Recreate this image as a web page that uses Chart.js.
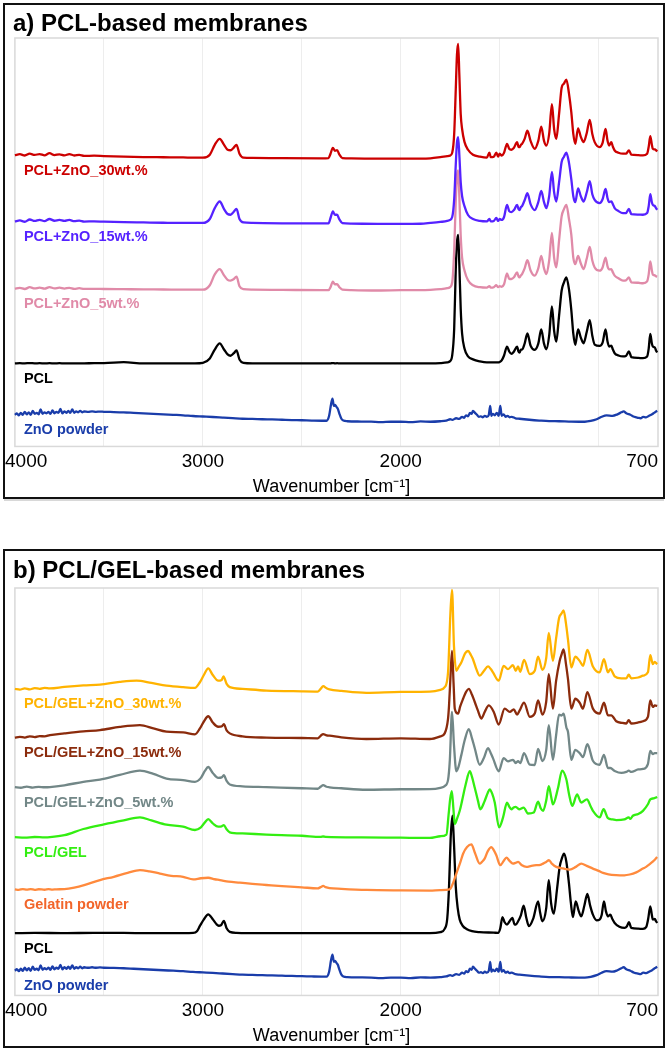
<!DOCTYPE html>
<html>
<head>
<meta charset="utf-8">
<script src="https://cdn.jsdelivr.net/npm/chart.js@4.4.1/dist/chart.umd.min.js"></script>
<style>
  html, body { margin: 0; padding: 0; background: #fff; }
  #page { position: relative; width: 668px; height: 1050px; overflow: hidden; }
  canvas { position: absolute; left: 0; }
  .frame { position: absolute; left: 3px; width: 662px; border: 2px solid #111; box-sizing: border-box; }
  .panel-title { position: absolute; left: 13px; font: bold 24px 'Liberation Sans', Arial, sans-serif; color: #000; line-height: 28px; white-space: nowrap; }
</style>
</head>
<body>
<div id="page">
  <canvas id="pcl-chart" width="668" height="500" style="top:0;width:668px;height:500px"></canvas>
  <canvas id="gel-chart" width="668" height="502" style="top:548px;width:668px;height:502px"></canvas>
  <div class="frame" style="top:3px;height:496px;box-shadow:0 3px 0 -1px #d8d8d8"></div>
  <div class="frame" style="top:549px;height:499px"></div>
  <div class="panel-title" style="top:9px">a) PCL-based membranes</div>
  <div class="panel-title" style="top:556px">b) PCL/GEL-based membranes</div>
</div>
<script>
'use strict';

var fontFamily = "'Liberation Sans', Arial, sans-serif";

// x axis, wavenumber in cm-1
var tickValues = [4000, 3000, 2000, 700];
var tickLabels = ['4000', '3000', '2000', '700'];
var gridValues = [3500, 3000, 2500, 2000, 1500, 1000];
var frameFrom = 3950; // plot frame starts where the recorded spectra start

// ---- a) PCL-based membranes: shared wavenumber grid ----
var gridA = [
  3950, 3925, 3900, 3875, 3850, 3825, 3800, 3775, 3750, 3725, 3700, 3675, 3650, 3625, 3600, 3550, 3500, 3400, 3300, 3200, 3100, 3040,
  3000, 2965, 2940, 2915, 2893, 2875, 2860, 2845, 2830, 2815, 2795,
  2750, 2600, 2400,
  2365, 2355, 2343, 2333, 2322, 2310, 2295,
  2250, 2100, 2000, 1900, 1850, 1800,
  1765, 1752, 1740, 1730, 1722, 1716, 1710, 1704, 1697, 1690, 1678, 1660, 1635, 1600, 1565,
  1552, 1545, 1530, 1517, 1508, 1500, 1490, 1478, 1463, 1452,
  1441, 1428, 1412, 1405, 1399, 1393, 1387, 1374, 1360, 1344,
  1323, 1305, 1290, 1276, 1264, 1250, 1236, 1225, 1214, 1200,
  1187, 1175, 1163, 1150, 1138, 1128, 1118, 1104, 1090, 1076,
  1060, 1045, 1032, 1020, 995, 980, 965, 955, 947, 936,
  928, 919, 900, 877, 862, 847, 840, 835, 800, 776,
  755, 747, 739, 731, 726, 716, 710, 704
];

var pclZno30 = [
  3.5, 4.5, 3.2, 5, 3.8, 4.6, 3.4, 5.5, 3.6, 4.4, 3.3, 4.6, 3.2, 3.8, 2.8, 3, 2.6, 2, 1.6, 1.4, 1.2, 1,
  1, 4, 14, 20, 14, 9, 8.5, 11, 14, 5, 1,
  0.8, 0.5, 0.3,
  0.5, 5, 11, 8, 8.5, 4, 0.5,
  0.2, 0, 0, 0, 0.3, 1.5,
  2.5, 3, 6, 25, 70, 105, 116, 85, 45, 30, 17, 9, 4, 2, 1,
  6, 1.5, 2, 6, 2, 5, 3, 6, 15, 10,
  9, 11, 16.7, 12, 11.7, 14, 15, 20, 28.3, 18,
  10, 18, 32.3, 18, 13.3, 25, 55, 30, 20, 45,
  71.7, 76, 80, 66, 46.7, 25, 15, 30.7, 22, 16.7,
  26, 39.3, 25, 16.7, 11.7, 16, 30, 18, 13.3, 16.7,
  12, 8.3, 6, 5, 5, 8.3, 6, 4, 3.5, 3.3,
  5, 12, 22.7, 14, 10, 9.3, 8.5, 7.3
];

var pclZno15 = [
  2.5, 3.5, 2.2, 4.5, 3, 4.2, 2.8, 5, 3.2, 4, 3, 4, 2.8, 3.4, 2.4, 2.6, 2.3, 1.8, 1.5, 1.2, 1, 1,
  1, 5, 16, 22.7, 15, 10, 9.3, 12, 15.3, 5, 1.5,
  1, 0.6, 0.5,
  0.5, 6, 12.7, 9.3, 9.3, 4.5, 0.8,
  0.3, 0, 0, 0.2, 1, 2,
  3, 4, 7, 25, 60, 82, 87.7, 70, 42, 28, 18, 9, 5, 3, 2.5,
  5, 2.5, 3, 6, 3, 5, 4, 7, 19.3, 13,
  12, 14, 19.3, 15, 14, 17, 18, 24, 31, 20,
  14, 22, 33.3, 22, 16, 28, 52.7, 32, 22.7, 42,
  62.7, 68, 72, 62, 45, 28, 22, 36, 28, 22.7,
  32, 43.3, 30, 24.3, 21, 25, 35.3, 26, 22, 22.7,
  20, 16, 13, 11, 11, 15.3, 12, 10, 9.5, 9.3,
  11, 18, 30, 22, 19.3, 18, 16, 14.3
];

var pclZno5 = [
  1.5, 2.3, 1.2, 3, 1.8, 2.6, 1.5, 3.2, 1.8, 2.5, 1.6, 2.4, 1.4, 2, 1.3, 1.4, 1.2, 1, 0.8, 0.7, 0.5, 0.5,
  0.5, 5, 16, 21.3, 15, 10.5, 9.7, 11, 13.7, 4, 1,
  0.5, 0.3, 0,
  0, 3, 8.7, 6, 6, 3, 0.5,
  0, -0.3, 0, 0, 0.3, 1,
  2, 3, 8, 40, 90, 115, 121, 95, 55, 33, 20, 10, 5, 3, 2.5,
  4, 2.5, 3, 5, 3, 4, 3.5, 6, 17, 11.5,
  11.3, 13, 18, 14, 13, 15, 16.3, 22, 30.3, 20,
  14.7, 22, 34.7, 22, 16.3, 30, 58, 33, 23, 50,
  74.7, 82, 86.3, 72, 56, 33, 26.3, 34.7, 27, 21.3,
  32, 43.7, 30, 23, 19.7, 23, 33, 24, 21, 21.3,
  18, 14.7, 12, 9.7, 10, 13, 10, 8, 7.5, 7,
  9, 16, 29, 20, 15.7, 15, 14, 13.7
];

var pclA = [
  0, 0.2, 0, 0.3, 0, 0.2, 0, 0.2, 0, 0.2, 0, 0.1, 0, 0.1, 0, 0.3, 0.3, 1.2, 0, 0, 0, 0,
  0.5, 5, 14, 20.3, 14, 9, 7.7, 10, 13, 4, 0.5,
  0, 0, 0,
  0, 0, 0.3, 0, 0.2, 0, 0,
  0, 0, 0, 0, 0, 0.3,
  1, 2, 8, 35, 95, 122, 130, 100, 55, 30, 15, 7, 4, 2, 1,
  1, 1, 1, 1, 1, 1.5, 3, 8, 17, 12,
  9.7, 12, 17, 12, 11, 14, 14, 20, 30.3, 18,
  13.7, 20, 34.3, 20, 14.3, 28, 57.7, 33, 22, 48,
  73.7, 82, 87, 75, 53.7, 30, 18.7, 34.3, 26, 20.3,
  32, 43.7, 28, 19, 17.7, 21, 34.3, 22, 17, 18,
  14, 10.3, 8, 7, 7.5, 12, 9, 6.3, 5.5, 5.3,
  7, 15, 29.7, 20, 17, 16, 13, 11
];

// ZnO powder, same spectrum in both panels: [wavenumber, intensity]
var znoPowder = [
  [3950, 7], [3940, 8.5], [3930, 6.5], [3920, 9], [3910, 7], [3900, 10], [3890, 7.5], [3880, 9.5], [3870, 7], [3860, 11],
  [3850, 8], [3840, 9], [3830, 7.5], [3820, 12.5], [3810, 8], [3800, 9.5], [3790, 8.5], [3780, 10], [3770, 8], [3760, 11.5],
  [3750, 8.5], [3740, 10], [3730, 9], [3720, 13], [3710, 8.5], [3700, 10.5], [3690, 9], [3680, 11], [3670, 9], [3660, 12.5],
  [3650, 9], [3640, 10.5], [3630, 9.5], [3620, 11], [3610, 9.5], [3600, 10.5], [3580, 10], [3560, 10.5], [3540, 10], [3520, 10.3],
  [3500, 10], [3450, 9.8], [3400, 9.5], [3350, 9], [3300, 8.5], [3250, 8], [3200, 7.5], [3150, 7], [3100, 6.5], [3050, 5.8],
  [3000, 5.3], [2950, 4.8], [2900, 4.2], [2850, 3.6], [2800, 3], [2750, 2.8], [2700, 2.5], [2650, 2.3], [2600, 2], [2550, 1.7],
  [2500, 1.5], [2450, 1.2], [2400, 1], [2375, 1], [2362, 6], [2352, 18], [2345, 23.3], [2338, 16], [2332, 17], [2325, 15],
  [2318, 13], [2310, 8], [2300, 3], [2290, 1.2], [2270, 0.5], [2200, 0.2], [2150, 0], [2100, -0.5], [2050, 0], [2000, 0],
  [1950, -0.5], [1900, 0.3], [1850, 0], [1800, 0.5], [1770, 1.2], [1750, 2.5], [1740, 1.8], [1720, 3.5], [1705, 2.8], [1690, 5],
  [1680, 4], [1670, 6.5], [1660, 5.5], [1650, 9], [1642, 8], [1635, 11], [1625, 9], [1615, 7], [1605, 5], [1595, 5.5],
  [1585, 4.5], [1575, 6], [1565, 5], [1555, 7], [1548, 16], [1542, 6], [1535, 8], [1525, 6.5], [1515, 9], [1505, 6],
  [1497, 16], [1490, 6], [1480, 7.5], [1470, 5], [1460, 6], [1450, 4.5], [1440, 5], [1420, 3.5], [1400, 3], [1350, 2],
  [1300, 1.2], [1250, 0.6], [1200, 0.5], [1150, 0.2], [1100, 0], [1070, 0], [1040, 0.8], [1010, 2.5], [985, 5], [960, 6.5],
  [930, 6], [905, 7.5], [885, 9.5], [874, 10.5], [860, 8.5], [840, 7], [820, 5], [800, 4], [788, 3.5], [775, 5],
  [760, 4.5], [745, 6], [730, 7.5], [720, 9], [712, 10], [704, 11]
];

var labelsA = ['PCL+ZnO_30wt.%', 'PCL+ZnO_15wt.%', 'PCL+ZnO_5wt.%', 'PCL', 'ZnO powder'];
var colorsA = ['#CC0000', '#5522FF', '#E08AA8', '#000000', '#1A3DAA'];
var offsetsA = [291, 225, 158, 84, 25];

// ---- b) PCL/GEL-based membranes: [wavenumber, intensity] ----
var gelZno30 = [
  [3950, 4], [3925, 3.2], [3900, 4.5], [3875, 3.5], [3850, 4.8], [3825, 4], [3800, 5], [3773, 4.5], [3700, 6], [3604, 7.5],
  [3520, 8.3], [3420, 11], [3335, 12.3], [3260, 10], [3184, 7.3], [3100, 5.7], [3040, 5], [3015, 10.7], [2995, 18], [2973, 24.7],
  [2950, 18], [2923, 12.3], [2905, 13], [2896, 16.7], [2880, 9], [2864, 5.7], [2800, 4], [2679, 2.3], [2500, 1.5], [2420, 1.3],
  [2405, 4], [2392, 6.7], [2375, 4.7], [2360, 3.5], [2300, 2], [2174, 0], [2000, 1], [1853, 1.3], [1800, 3], [1778, 5.7],
  [1761, 20.7], [1749, 80.7], [1741, 104], [1731, 47], [1719, 22.3], [1708, 26], [1694, 30.7], [1675, 40], [1660, 42.3], [1645, 38],
  [1635, 34], [1618, 24], [1601, 17.3], [1580, 22], [1559, 26.7], [1545, 24], [1534, 20.7], [1505, 12.3], [1480, 27.3], [1458, 24],
  [1433, 28], [1419, 22.3], [1407, 26.7], [1396, 21.3], [1377, 33.3], [1348, 19], [1323, 22.3], [1306, 36.7], [1284, 23.3], [1265, 35],
  [1252, 60.7], [1231, 32.3], [1215, 55], [1200, 75.7], [1188, 80], [1177, 83.3], [1165, 70], [1155, 54], [1138, 25.7], [1118, 36.7],
  [1096, 32.3], [1079, 27.3], [1057, 43.3], [1029, 26.7], [995, 20.7], [973, 34], [953, 20.7], [941, 24], [919, 16.7], [885, 14.7],
  [860, 14.7], [848, 18.3], [835, 14.7], [800, 15.5], [776, 17.3], [751, 20.7], [739, 38], [726, 29], [717, 31.3], [704, 29]
];

var gelZno15 = [
  [3950, 0.7], [3925, 1.5], [3900, 0.8], [3875, 2], [3850, 1.2], [3825, 2.2], [3800, 2], [3773, 3.3], [3700, 5], [3604, 7],
  [3520, 8.3], [3420, 11.5], [3318, 13.3], [3250, 10], [3184, 6.7], [3100, 6], [3040, 4], [3015, 10], [2995, 17], [2973, 22.3],
  [2950, 16], [2923, 11.7], [2905, 12], [2894, 14.3], [2880, 8], [2864, 5], [2800, 2], [2679, 0.7], [2500, 0.3], [2420, 0],
  [2405, 2.5], [2392, 4.3], [2375, 3], [2360, 2.7], [2300, 1], [2174, -0.7], [2000, 0], [1853, -0.7], [1800, 2], [1778, 5],
  [1761, 20], [1756, 33.3], [1748, 65], [1741, 88.3], [1733, 55], [1727, 30], [1710, 25], [1700, 32], [1685, 40], [1670, 47],
  [1656, 50], [1640, 44], [1626, 36.7], [1610, 28], [1593, 20], [1575, 27], [1555, 33.3], [1530, 26.7], [1505, 14], [1475, 30],
  [1449, 26.7], [1429, 29.3], [1412, 24], [1399, 28.3], [1377, 36], [1348, 21.7], [1323, 25], [1306, 38.3], [1284, 24], [1265, 37],
  [1252, 65], [1231, 30], [1215, 58], [1197, 78.3], [1187, 85], [1177, 90], [1165, 75], [1155, 60], [1138, 30], [1118, 40],
  [1096, 36], [1079, 30], [1057, 46.7], [1029, 30], [995, 25], [973, 36], [953, 23.3], [936, 23.3], [911, 17.3], [880, 15.5],
  [860, 15], [848, 18.3], [835, 15], [800, 16], [776, 17.3], [751, 21.7], [739, 38.3], [726, 31.7], [716, 33.3], [704, 32.7]
];

var gelZno5 = [
  [3950, 2.7], [3920, 2], [3890, 3.2], [3860, 2.2], [3830, 3], [3800, 2.5], [3773, 2.7], [3700, 4.5], [3604, 8], [3520, 10.3],
  [3420, 15], [3318, 19.3], [3250, 16], [3184, 11.3], [3100, 9.7], [3040, 8], [3010, 12], [2990, 19], [2973, 23], [2950, 17],
  [2923, 12], [2905, 12.5], [2894, 14.7], [2880, 9], [2864, 5.3], [2800, 3.5], [2679, 2.7], [2500, 1.5], [2420, 1], [2405, 3],
  [2392, 4.7], [2375, 3], [2360, 2.5], [2300, 1.5], [2174, 0], [2000, 0.5], [1853, 0.7], [1800, 2], [1778, 3.7], [1761, 10],
  [1752, 30], [1741, 78.7], [1731, 45], [1719, 18.7], [1710, 22], [1694, 35], [1677, 50], [1656, 61.3], [1640, 52], [1626, 42],
  [1601, 25.3], [1580, 32], [1559, 42], [1545, 37], [1534, 32], [1505, 18.7], [1480, 32], [1458, 28.7], [1433, 30.3], [1419, 27],
  [1407, 29], [1396, 27], [1377, 37], [1348, 25.3], [1323, 25], [1306, 41.3], [1284, 29], [1265, 40], [1252, 65.3], [1231, 30.3],
  [1215, 55], [1200, 76], [1188, 75], [1177, 77], [1163, 63], [1155, 58.7], [1138, 30.3], [1118, 40.3], [1096, 37], [1079, 33],
  [1057, 46], [1029, 29.3], [995, 25.3], [973, 35.3], [953, 22], [941, 22], [919, 19], [885, 17], [860, 18], [848, 19.3],
  [835, 18], [800, 20.5], [776, 21], [751, 26], [739, 39.3], [726, 36], [717, 37], [704, 37]
];

var pclGel = [
  [3950, 1], [3900, 0.6], [3850, 1.2], [3800, 0.8], [3773, 1], [3700, 3], [3604, 9.3], [3500, 14], [3400, 18], [3318, 21],
  [3260, 18], [3184, 13.7], [3100, 11.7], [3040, 8.3], [3010, 11], [2990, 16], [2973, 19.3], [2950, 15], [2923, 11.7], [2905, 12],
  [2894, 13.3], [2880, 9], [2864, 6], [2800, 4.8], [2679, 3.7], [2500, 2.5], [2405, 1.3], [2392, 1.7], [2380, 1.3], [2200, 0.8],
  [2000, 0.5], [1853, 0.3], [1800, 2], [1769, 3.7], [1758, 24.3], [1750, 40], [1742, 47.7], [1734, 30], [1727, 14.3], [1715, 20],
  [1702, 27.7], [1690, 38], [1672, 54.3], [1651, 67.7], [1640, 62], [1626, 51], [1610, 38], [1598, 29.3], [1576, 37.7], [1560, 46],
  [1550, 49.3], [1538, 45], [1525, 36], [1503, 11], [1483, 21], [1463, 36], [1452, 32], [1441, 29.3], [1430, 31], [1419, 31.7],
  [1402, 29.3], [1379, 31], [1357, 25], [1328, 26], [1306, 37], [1292, 30], [1281, 27.7], [1265, 38], [1252, 52.7], [1240, 42],
  [1231, 34.3], [1205, 51], [1185, 68.3], [1163, 59.3], [1150, 45], [1133, 32.7], [1109, 44.3], [1088, 36], [1059, 39.3], [1040, 32],
  [1029, 27.7], [995, 21], [975, 29.3], [953, 20.3], [930, 19], [911, 18.3], [870, 19], [848, 21], [840, 19.5], [827, 22.7],
  [800, 24.5], [776, 27.7], [751, 34.3], [739, 39.3], [722, 40.3], [712, 41], [704, 41.7]
];

var gelatinPowder = [
  [3950, 1.3], [3930, 0.8], [3910, 1.5], [3890, 1], [3870, 1.6], [3850, 0.8], [3830, 1.4], [3800, 0.9], [3780, 1.5], [3760, 1],
  [3740, 1.3], [3700, 1.5], [3650, 3], [3600, 5.5], [3520, 10.7], [3450, 14], [3380, 18], [3318, 20.7], [3270, 19.5], [3217, 17.3],
  [3160, 15], [3100, 14], [3049, 11.3], [3010, 12.5], [2973, 13], [2940, 11.5], [2914, 10.7], [2870, 9], [2813, 8], [2750, 6.8],
  [2679, 5.7], [2600, 4.5], [2500, 3.3], [2420, 2.3], [2405, 3.5], [2392, 4.7], [2380, 3.5], [2360, 2.5], [2300, 1.8], [2174, 0.7],
  [2000, 0.2], [1853, 0], [1800, 0.5], [1753, 1.3], [1735, 8], [1719, 17.3], [1700, 28], [1685, 37.3], [1665, 44], [1643, 46.7],
  [1625, 38], [1601, 27.3], [1590, 29], [1576, 32.3], [1560, 40], [1542, 44], [1530, 41], [1517, 35.7], [1497, 25.7], [1480, 30],
  [1466, 33.3], [1450, 30], [1433, 27.3], [1420, 28], [1407, 29], [1390, 26], [1365, 24], [1340, 25], [1315, 25.7], [1295, 26],
  [1281, 27.3], [1265, 29], [1251, 30.7], [1235, 27], [1214, 24], [1180, 22.5], [1146, 21.3], [1115, 24], [1088, 27.3], [1060, 25],
  [1029, 22.3], [1000, 20], [978, 18], [950, 16.5], [911, 15.7], [870, 15.5], [843, 16.3], [810, 18.5], [776, 22.3], [760, 24],
  [742, 26.7], [725, 29.5], [715, 31.5], [704, 34]
];

var pclB = [
  [3950, 0], [3850, 0.3], [3700, 0], [3550, 0.3], [3400, 0.2], [3250, 0], [3100, 0], [3049, 0.3], [3030, 2], [3015, 7.3],
  [2995, 14], [2973, 19], [2950, 14], [2931, 9], [2920, 7.5], [2909, 8], [2894, 12.3], [2880, 5], [2864, 1.3], [2830, 0.3],
  [2700, 0], [2500, 0], [2300, 0], [2100, 0], [1950, 0], [1853, 0], [1800, 1], [1778, 4.3], [1765, 15], [1756, 47],
  [1748, 95], [1739, 118.7], [1731, 90], [1722, 47], [1712, 25], [1702, 13.7], [1685, 7], [1668, 4.3], [1640, 2], [1601, 1],
  [1530, 0.5], [1508, 0.3], [1497, 5], [1486, 16.3], [1475, 11], [1463, 8.7], [1450, 12], [1436, 15.3], [1425, 9], [1419, 8.7],
  [1407, 12], [1393, 18], [1379, 27.7], [1365, 15], [1352, 7], [1330, 15], [1306, 32], [1295, 20], [1284, 12], [1265, 25],
  [1252, 53.7], [1240, 30], [1227, 19.7], [1210, 45], [1197, 67], [1185, 76], [1175, 80.3], [1163, 72], [1150, 50.3], [1140, 30],
  [1130, 16.3], [1116, 32], [1100, 22], [1088, 17], [1072, 28], [1057, 39.7], [1043, 28], [1029, 18.7], [1010, 13], [995, 13.7],
  [985, 18], [973, 32], [963, 22], [953, 17], [941, 18.7], [930, 14], [919, 10.3], [895, 6.5], [869, 5.3], [857, 7],
  [847, 11], [835, 5.3], [800, 4.5], [776, 4.3], [760, 6], [750, 14], [739, 27], [730, 17], [726, 13.7], [716, 14.3],
  [710, 12], [704, 10.3]
];

var labelsB = ['PCL/GEL+ZnO_30wt.%', 'PCL/GEL+ZnO_15wt.%', 'PCL/GEL+ZnO_5wt.%', 'PCL/GEL', 'Gelatin powder', 'PCL', 'ZnO powder'];
var colorsB = ['#FFB300', '#8B2B0C', '#728787', '#33EE11', '#FF8A3D', '#000000', '#1A3DAA'];
var labelColorsB = ['#FFB300', '#8B2B0C', '#728787', '#33EE11', '#F2652A', '#000000', '#1A3DAA'];
var offsetsB = [306, 260, 208, 159, 106, 63, 18];

function fromGrid(grid, values, offset) {
  return grid.map(function (w, i) { return { x: w, y: values[i] + offset }; });
}

function fromPairs(pairs, offset) {
  return pairs.map(function (p) { return { x: p[0], y: p[1] + offset }; });
}

function makeDataset(label, data, color, labelColor) {
  return {
    label: label,
    data: data,
    borderColor: color,
    labelColor: labelColor || color,
    borderWidth: 2.3,
    pointRadius: 0,
    fill: false,
    cubicInterpolationMode: 'monotone'
  };
}

function frameLeft(chart) {
  return chart.scales.x.getPixelForValue(frameFrom);
}

// light grey frame around the recorded range
var plotFrame = {
  id: 'plotFrame',
  beforeDatasetsDraw: function (chart) {
    var a = chart.chartArea;
    var left = frameLeft(chart);
    var ctx = chart.ctx;
    ctx.save();
    ctx.strokeStyle = '#d9d9d9';
    ctx.lineWidth = 1.5;
    ctx.strokeRect(left, a.top, a.right - left, a.bottom - a.top);
    ctx.restore();
  }
};

// coloured name under the left end of each trace
var curveLabels = {
  id: 'curveLabels',
  afterDatasetsDraw: function (chart) {
    var ctx = chart.ctx;
    var x = frameLeft(chart) + 9;
    ctx.save();
    ctx.font = 'bold 14.5px ' + fontFamily;
    ctx.textBaseline = 'middle';
    ctx.textAlign = 'left';
    chart.data.datasets.forEach(function (ds, i) {
      var first = chart.getDatasetMeta(i).data[0];
      if (!first) return;
      ctx.fillStyle = ds.labelColor;
      ctx.fillText(ds.label, x, first.y + 15.5);
    });
    ctx.restore();
  }
};

function makeChart(id, datasets, yMax, topPad, bottomPad) {
  return new Chart(document.getElementById(id), {
    type: 'line',
    data: { datasets: datasets },
    options: {
      responsive: false,
      animation: false,
      devicePixelRatio: 1,
      layout: { padding: { left: 5, right: 10, top: topPad, bottom: bottomPad } },
      plugins: {
        legend: { display: false },
        tooltip: { enabled: false },
        title: { display: false }
      },
      scales: {
        x: {
          type: 'linear',
          reverse: true,
          min: 700,
          max: 4000,
          afterBuildTicks: function (scale) {
            var vals = tickValues.concat(gridValues).filter(function (v, i, arr) {
              return arr.indexOf(v) === i;
            }).sort(function (a, b) { return a - b; });
            scale.ticks = vals.map(function (v) { return { value: v }; });
          },
          ticks: {
            autoSkip: false,
            maxRotation: 0,
            align: 'inner',
            padding: 5,
            color: '#000',
            font: { family: fontFamily, size: 19, lineHeight: 1.05 },
            callback: function (v) {
              var i = tickValues.indexOf(v);
              return i < 0 ? '' : tickLabels[i];
            }
          },
          grid: {
            drawTicks: false,
            lineWidth: 1,
            color: function (c) {
              return c.tick && gridValues.indexOf(c.tick.value) >= 0 ? '#ededed' : 'rgba(0,0,0,0)';
            }
          },
          border: { display: false },
          title: {
            display: true,
            text: 'Wavenumber [cm⁻¹]',
            color: '#000',
            padding: 0,
            font: { family: fontFamily, size: 18 }
          }
        },
        y: { display: false, min: 0, max: yMax }
      }
    },
    plugins: [plotFrame, curveLabels]
  });
}

var seriesA = [pclZno30, pclZno15, pclZno5, pclA];
var datasetsA = seriesA.map(function (vals, i) {
  return makeDataset(labelsA[i], fromGrid(gridA, vals, offsetsA[i]), colorsA[i]);
});
datasetsA.push(makeDataset(labelsA[4], fromPairs(znoPowder, offsetsA[4]), colorsA[4]));

var seriesB = [gelZno30, gelZno15, gelZno5, pclGel, gelatinPowder, pclB, znoPowder];
var datasetsB = seriesB.map(function (pairs, i) {
  return makeDataset(labelsB[i], fromPairs(pairs, offsetsB[i]), colorsB[i], labelColorsB[i]);
});

makeChart('pcl-chart', datasetsA, 413, 38, 2);
makeChart('gel-chart', datasetsB, 412, 40, 3);
</script>
</body>
</html>
